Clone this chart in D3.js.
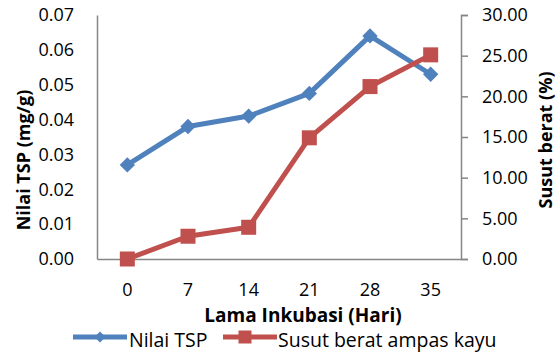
<!DOCTYPE html>
<html>
<head>
<meta charset="utf-8">
<script src="https://cdn.jsdelivr.net/npm/d3@7"></script>
<style>
  body { margin: 0; background: #fff; }
  svg { display: block; font-family: "Open Sans", sans-serif; }
</style>
</head>
<body>
<div id="chart"></div>
<script>
var days = ["0", "7", "14", "21", "28", "35"];
var tspValues = [0.027, 0.038, 0.041, 0.0475, 0.064, 0.053];
var susutValues = [0, 2.8, 3.9, 14.9, 21.2, 25.1];
var leftTicks = [0, 0.01, 0.02, 0.03, 0.04, 0.05, 0.06, 0.07];
var rightTicks = [0, 5, 10, 15, 20, 25, 30];

var W = 556, H = 353;
var margin = { top: 15, right: 95, bottom: 94, left: 97 };
var blue = "#4F81BD", red = "#C0504D", axisGrey = "#868686";

var svg = d3.select("#chart").append("svg")
    .attr("width", W)
    .attr("height", H);

svg.append("rect").attr("width", W).attr("height", H).attr("fill", "#fff");

var x = d3.scaleBand()
    .domain(days)
    .range([margin.left, W - margin.right]);

var yL = d3.scaleLinear().domain([0, 0.07]).range([H - margin.bottom, margin.top]);
var yR = d3.scaleLinear().domain([0, 30]).range([H - margin.bottom, margin.top]);

// axes
var gL = svg.append("g")
    .attr("transform", "translate(" + margin.left + ",0)")
    .call(d3.axisLeft(yL).tickValues(leftTicks).tickSize(0).tickPadding(23)
        .tickFormat(d3.format(".2f")));

var gR = svg.append("g")
    .attr("transform", "translate(" + (W - margin.right) + ",0)")
    .call(d3.axisRight(yR).tickValues(rightTicks).tickSize(7).tickPadding(14)
        .tickFormat(d3.format(".2f")));

var gB = svg.append("g")
    .attr("transform", "translate(0," + (H - margin.bottom) + ")")
    .call(d3.axisBottom(x).tickSize(0).tickPadding(24).tickSizeOuter(0));

[gL, gR, gB].forEach(function (g) {
    g.selectAll("path, line").attr("stroke", axisGrey).attr("stroke-width", 1.5);
    g.selectAll("text").attr("font-size", 18).attr("fill", "#000")
        .attr("font-family", "'Open Sans', sans-serif");
});

// axis titles
svg.append("text")
    .attr("transform", "translate(30," + 160 + ") rotate(-90)")
    .attr("text-anchor", "middle")
    .attr("font-size", 18)
    .attr("font-weight", "bold")
    .text("Nilai TSP (mg/g)");

svg.append("text")
    .attr("transform", "translate(552," + 140 + ") rotate(-90)")
    .attr("text-anchor", "middle")
    .attr("font-size", 18)
    .attr("font-weight", "bold")
    .text("Susut berat (%)");

svg.append("text")
    .attr("x", 303)
    .attr("y", 322)
    .attr("text-anchor", "middle")
    .attr("font-size", 19)
    .attr("font-weight", "bold")
    .text("Lama Inkubasi (Hari)");

// series
var cx = function (d, i) { return x(days[i]) + x.bandwidth() / 2; };

var lineL = d3.line().x(cx).y(function (d) { return yL(d); });
var lineR = d3.line().x(cx).y(function (d) { return yR(d); });

svg.append("path")
    .datum(tspValues)
    .attr("fill", "none")
    .attr("stroke", blue)
    .attr("stroke-width", 5)
    .attr("stroke-linejoin", "round")
    .attr("d", lineL);

svg.selectAll(".diamond")
    .data(tspValues)
    .enter().append("path")
    .attr("class", "diamond")
    .attr("fill", blue)
    .attr("d", d3.symbol().type(d3.symbolDiamond2).size(150))
    .attr("transform", function (d, i) {
        return "translate(" + cx(d, i) + "," + yL(d) + ")";
    });

svg.append("path")
    .datum(susutValues)
    .attr("fill", "none")
    .attr("stroke", red)
    .attr("stroke-width", 5)
    .attr("stroke-linejoin", "round")
    .attr("d", lineR);

svg.selectAll(".square")
    .data(susutValues)
    .enter().append("rect")
    .attr("class", "square")
    .attr("fill", red)
    .attr("x", function (d, i) { return cx(d, i) - 7.5; })
    .attr("y", function (d) { return yR(d) - 7.5; })
    .attr("width", 15)
    .attr("height", 15);

// legend
var legend = svg.append("g");
var legY = 337;

legend.append("line")
    .attr("x1", 73).attr("x2", 127).attr("y1", legY).attr("y2", legY)
    .attr("stroke", blue).attr("stroke-width", 5);
legend.append("path")
    .attr("fill", blue)
    .attr("d", d3.symbol().type(d3.symbolDiamond2).size(80))
    .attr("transform", "translate(100," + legY + ")");
legend.append("text")
    .attr("x", 129).attr("y", 347)
    .attr("font-size", 19.5)
    .text("Nilai TSP");

legend.append("line")
    .attr("x1", 223).attr("x2", 277).attr("y1", legY).attr("y2", legY)
    .attr("stroke", red).attr("stroke-width", 5);
legend.append("rect")
    .attr("fill", red)
    .attr("x", 245 - 6.5).attr("y", legY - 6.5)
    .attr("width", 13).attr("height", 13);
legend.append("text")
    .attr("x", 278).attr("y", 347)
    .attr("font-size", 19.5)
    .text("Susut berat ampas kayu");
</script>
</body>
</html>
